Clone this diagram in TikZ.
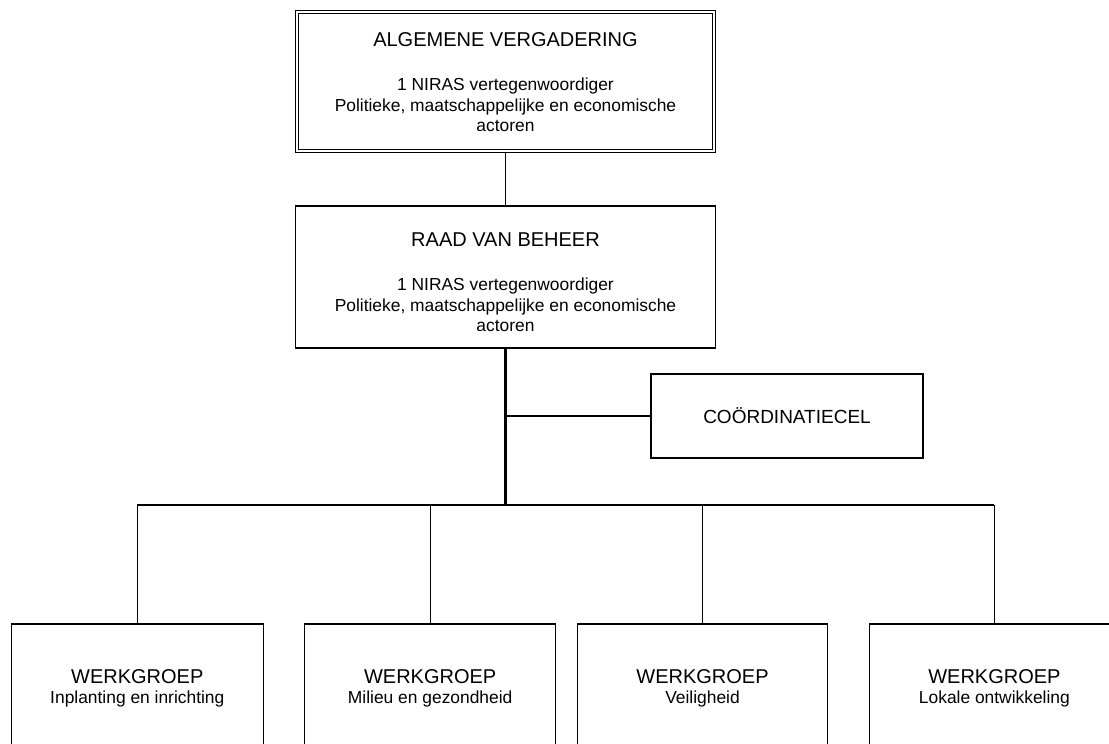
\documentclass[tikz,border=0pt]{standalone}
\usepackage{fontspec}
\setmainfont{Liberation Sans}
\begin{document}
\begin{tikzpicture}[x=1pt, y=-1pt]
\tikzstyle{box}=[draw, line width=1.4pt, inner sep=0pt]
\tikzstyle{wg}=[box, minimum width=250pt, minimum height=200pt]
\tikzstyle{link}=[line width=1.4pt]
\tikzstyle{trunk}=[line width=2.6pt]
\tikzstyle{head}=[font=\fontsize{20}{24}\selectfont, anchor=base, inner sep=0pt]
\tikzstyle{sub}=[font=\fontsize{17.4}{20.5}\selectfont, align=center, anchor=north, inner sep=0pt]
    \useasboundingbox (0,0) rectangle (1109,744);
    \clip (0,0) rectangle (1109,744);
    \node [box, double, line width=1pt, double distance=2.5pt, minimum width=417pt, minimum height=139pt] (av) at (505.5,81.5) {};
    \node [box, minimum width=420pt, minimum height=142pt] (rvb) at (505.5,277) {};
    \node [box, minimum width=272pt, minimum height=84pt] (cc) at (787,416) {};
    \node [wg, minimum width=252pt] (wg1) at (137.3,724) {};
    \node [wg, minimum width=251pt] (wg2) at (430.2,724) {};
    \node [wg] (wg3) at (702.5,724) {};
    \node [wg] (wg4) at (994.4,724) {};
    \node [head] (av-t) at (505.5,46.3) {ALGEMENE VERGADERING};
    \node [sub] (av-d) at (505.5,78) {1 NIRAS vertegenwoordiger\\Politieke, maatschappelijke en economische\\actoren};
    \node [head] (rvb-t) at (505.5,246.7) {RAAD VAN BEHEER};
    \node [sub] (rvb-d) at (505.5,278) {1 NIRAS vertegenwoordiger\\Politieke, maatschappelijke en economische\\actoren};
    \node [head, font=\fontsize{19}{23}\selectfont] (cc-t) at (787,423.3) {COÖRDINATIECEL};
    \node [head] (wg1-t) at (137.3,683) {WERKGROEP};
    \node [sub, anchor=base] (wg1-d) at (137.3,703) {Inplanting en inrichting};
    \node [head] (wg2-t) at (430.2,683) {WERKGROEP};
    \node [sub, anchor=base] (wg2-d) at (430.2,703) {Milieu en gezondheid};
    \node [head] (wg3-t) at (702.5,683) {WERKGROEP};
    \node [sub, anchor=base] (wg3-d) at (702.5,703) {Veiligheid};
    \node [head] (wg4-t) at (994.4,683) {WERKGROEP};
    \node [sub, anchor=base] (wg4-d) at (994.4,703) {Lokale ontwikkeling};
    \coordinate (bus) at (505.5,505);
    \draw [link] (av.south) -- (rvb.north);
    \draw [trunk] (rvb.south) -- (bus);
    \draw [link] (cc.west) -- (cc.west -| bus);
    \draw [link] (wg1.north |- bus) -- (wg4.north |- bus);
    \draw [trunk] (wg2.north |- bus) -- (wg3.north |- bus);
    \foreach \w in {wg1,wg2,wg3,wg4}
        \draw [link] (\w.north |- bus) -- (\w.north);
\end{tikzpicture}
\end{document}
